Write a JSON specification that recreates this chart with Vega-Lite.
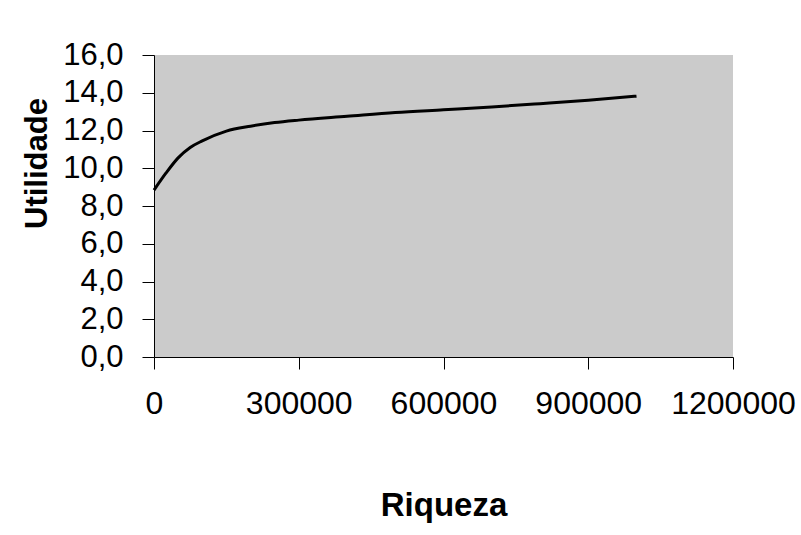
{
  "$schema": "https://vega.github.io/schema/vega-lite/v6.json",
  "autosize": {"type": "none"},
  "width": 579,
  "height": 302,
  "padding": {"left": 154, "top": 55, "right": 68, "bottom": 178},
  "background": "white",
  "config": {
    "locale": {"number": {"decimal": ",", "thousands": ".", "grouping": [3], "currency": ["R$", ""]}},
    "view": {"fill": "#cbcbcb", "stroke": null},
    "font": "Liberation Sans",
    "axis": {"grid": false, "domainColor": "black", "tickColor": "black", "labelColor": "black", "titleColor": "black", "domainWidth": 1, "tickWidth": 1}
  },
  "data": {"values": [
    {"riqueza": 0, "utilidade": 8.84},
    {"riqueza": 25000, "utilidade": 9.75},
    {"riqueza": 50000, "utilidade": 10.55},
    {"riqueza": 75000, "utilidade": 11.1},
    {"riqueza": 100000, "utilidade": 11.45},
    {"riqueza": 150000, "utilidade": 11.97},
    {"riqueza": 200000, "utilidade": 12.23},
    {"riqueza": 250000, "utilidade": 12.42},
    {"riqueza": 300000, "utilidade": 12.55},
    {"riqueza": 400000, "utilidade": 12.75},
    {"riqueza": 500000, "utilidade": 12.95},
    {"riqueza": 600000, "utilidade": 13.1},
    {"riqueza": 700000, "utilidade": 13.25},
    {"riqueza": 800000, "utilidade": 13.42},
    {"riqueza": 900000, "utilidade": 13.6},
    {"riqueza": 1000000, "utilidade": 13.82}
  ]},
  "mark": {"type": "line", "color": "black", "strokeWidth": 3, "interpolate": "monotone"},
  "encoding": {
    "x": {
      "field": "riqueza", "type": "quantitative",
      "scale": {"domain": [0, 1200000], "nice": false, "zero": true},
      "axis": {
        "title": "Riqueza", "values": [0, 300000, 600000, 900000, 1200000], "format": "d",
        "tickSize": 12, "labelPadding": 19, "labelFontSize": 32, "labelFlush": false,
        "titleFontSize": 33, "titleFontWeight": "bold", "titleY": 158, "titleBaseline": "alphabetic"
      }
    },
    "y": {
      "field": "utilidade", "type": "quantitative",
      "scale": {"domain": [0, 16], "nice": false},
      "axis": {
        "title": "Utilidade", "values": [0, 2, 4, 6, 8, 10, 12, 14, 16], "format": ".1f",
        "tickSize": 12, "labelPadding": 19, "labelFontSize": 31,
        "titleFontSize": 31, "titleFontWeight": "bold", "titleX": -117, "titleY": 108,
        "titleAngle": -90, "titleAlign": "center", "titleBaseline": "middle"
      }
    }
  }
}
